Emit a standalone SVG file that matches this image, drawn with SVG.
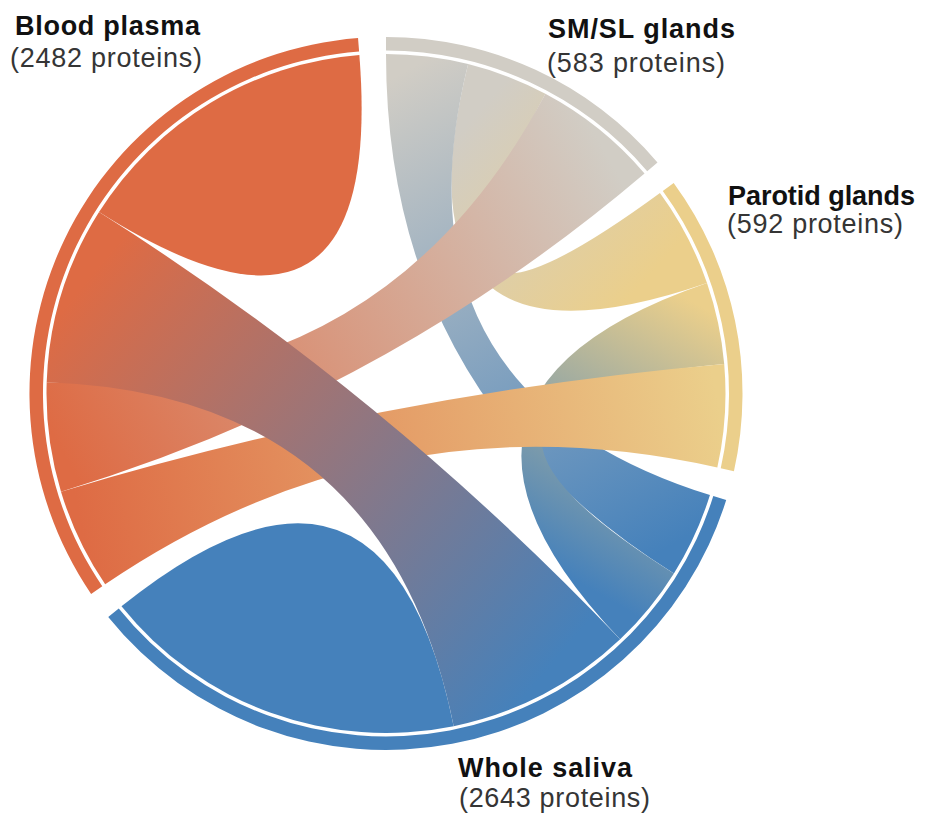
<svg xmlns="http://www.w3.org/2000/svg" width="929" height="818" viewBox="0 0 929 818">
<style>
.b{font-family:"Liberation Sans",Arial,sans-serif;font-weight:bold;font-size:27px;fill:#111}
.r{font-family:"Liberation Sans",Arial,sans-serif;font-size:27px;fill:#353535}
.bp{fill:#DE6B44}.ws{fill:#4581BB}.sm{fill:#D1CDC5}.pa{fill:#EBCF8B}
</style>
<defs>
<linearGradient id="g-bpws" gradientUnits="userSpaceOnUse" x1="72.9" y1="297.2" x2="536.9" y2="682.8"><stop offset="0" stop-color="#DE6B44"/><stop offset="1" stop-color="#4581BB"/></linearGradient>
<linearGradient id="g-smbp" gradientUnits="userSpaceOnUse" x1="595" y1="133.6" x2="53.8" y2="436.9"><stop offset="0" stop-color="#D1CDC5"/><stop offset="1" stop-color="#DE6B44"/></linearGradient>
<linearGradient id="g-bppa" gradientUnits="userSpaceOnUse" x1="83.1" y1="538" x2="720.8" y2="415.7"><stop offset="0" stop-color="#DE6B44"/><stop offset="1" stop-color="#EBCF8B"/></linearGradient>
<linearGradient id="g-smws" gradientUnits="userSpaceOnUse" x1="427" y1="59" x2="691.9" y2="534.2"><stop offset="0" stop-color="#D1CDC5"/><stop offset="1" stop-color="#4581BB"/></linearGradient>
<linearGradient id="g-paws" gradientUnits="userSpaceOnUse" x1="690" y1="300" x2="540" y2="560"><stop offset="0" stop-color="#EBCF8B"/><stop offset="1" stop-color="#4581BB"/></linearGradient>
<linearGradient id="g-smpa" gradientUnits="userSpaceOnUse" x1="506.8" y1="78.9" x2="683.5" y2="238"><stop offset="0" stop-color="#D1CDC5"/><stop offset="1" stop-color="#EBCF8B"/></linearGradient>
</defs>
<rect width="929" height="818" fill="#fff"/>
<g id="connectors">
<path id="ws-self" class="ws" d="M453.69 726.18 A339.5 339.5 0 0 1 121.47 606.3 Q386 393.5 453.69 726.18 Z"/>
<path id="bp-self" class="bp" d="M99.03 212.09 A339.5 339.5 0 0 1 359.36 55.05 Q386 393.5 99.03 212.09 Z"/>
<path id="sm-pa" fill="url(#g-smpa)" d="M468.13 64.08 A339.5 339.5 0 0 1 545.39 93.74 Q386 393.5 659.96 192.99 A339.5 339.5 0 0 1 707 282.97 Q386 393.5 468.13 64.08 Z"/>
<path id="sm-ws" fill="url(#g-smws)" d="M386 54 A339.5 339.5 0 0 1 468.13 64.08 Q386 393.5 709.96 495.02 A339.5 339.5 0 0 1 673.91 573.41 Q386 393.5 386 54 Z"/>
<path id="pa-ws" fill="url(#g-paws)" d="M707 282.97 A339.5 339.5 0 0 1 724.21 363.91 Q386 393.5 673.91 573.41 A339.5 339.5 0 0 1 620.13 639.36 Q386 393.5 707 282.97 Z"/>
<path id="sm-bp" fill="url(#g-smbp)" d="M545.39 93.74 A339.5 339.5 0 0 1 644.54 173.46 Q386 393.5 60.99 491.63 A339.5 339.5 0 0 1 46.69 382.24 Q386 393.5 545.39 93.74 Z"/>
<path id="bp-pa" fill="url(#g-bppa)" d="M724.21 363.91 A339.5 339.5 0 0 1 717.32 467.56 Q386 393.5 105.17 584.33 A339.5 339.5 0 0 1 60.99 491.63 Q386 393.5 724.21 363.91 Z"/>
<path id="bp-ws" fill="url(#g-bpws)" d="M620.13 639.36 A339.5 339.5 0 0 1 453.69 726.18 Q386 393.5 46.69 382.24 A339.5 339.5 0 0 1 99.03 212.09 Q386 393.5 620.13 639.36 Z"/>
</g>
<g id="node-smsl">
<path class="sm" d="M386 37 A356.5 356.5 0 0 1 657.49 162.44 L647.21 171.19 A343 343 0 0 0 386 50.5 Z"/>
<text class="b" x="548" y="38" textLength="187">SM/SL glands</text>
<text class="r" x="547" y="72" textLength="178">(583 proteins)</text>
</g>
<g id="node-parotid">
<path class="pa" d="M673.68 182.95 A356.5 356.5 0 0 1 733.92 471.27 L720.74 468.32 A343 343 0 0 0 662.79 190.92 Z"/>
<text class="b" x="728" y="205" textLength="187">Parotid glands</text>
<text class="r" x="727" y="233" textLength="176">(592 proteins)</text>
</g>
<g id="node-whole-saliva">
<path class="ws" d="M726.19 500.11 A356.5 356.5 0 0 1 108.23 616.95 L118.75 608.49 A343 343 0 0 0 713.3 496.07 Z"/>
<text class="b" x="458" y="777" textLength="174">Whole saliva</text>
<text class="r" x="459" y="807" textLength="191">(2643 proteins)</text>
</g>
<g id="node-blood-plasma">
<path class="bp" d="M91.11 593.88 A356.5 356.5 0 0 1 358.03 38.1 L359.09 51.56 A343 343 0 0 0 102.28 586.29 Z"/>
<text class="b" x="15" y="35" textLength="185">Blood plasma</text>
<text class="r" x="10" y="67" textLength="192">(2482 proteins)</text>
</g>
</svg>
